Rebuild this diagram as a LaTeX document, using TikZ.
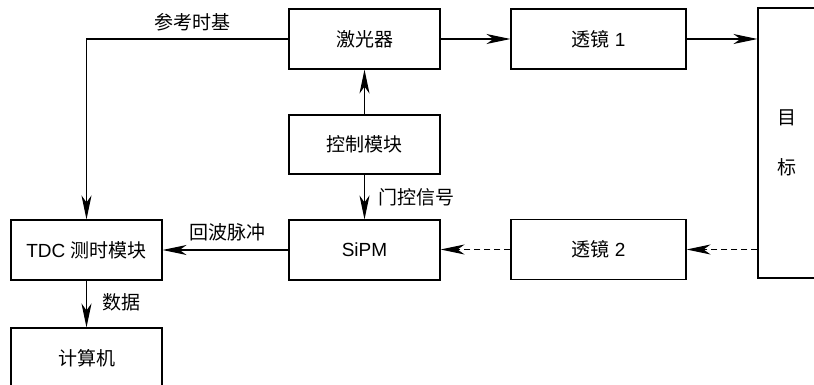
\documentclass[tikz,border=0pt]{standalone}
\usepackage{fontspec}
\setmainfont{Liberation Sans}
\newfontfamily\cjk{Noto Sans CJK SC}
\usetikzlibrary{arrows.meta}
\newcommand{\zh}[1]{{\cjk #1}}
\begin{document}
\begin{tikzpicture}[x=1pt,y=-1pt,
  box/.style={draw=black,line width=1.1pt,inner sep=0pt,minimum width=151pt,minimum height=60pt,font=\fontsize{19}{22}\selectfont},
  wbox/.style={box,minimum width=175pt},
  lbl/.style={inner sep=0pt,font=\fontsize{19}{22}\selectfont},
  arr/.style={line width=1.1pt,-{Stealth[length=24pt,width=10pt,inset=7pt]}},
  darr/.style={arr,dash pattern=on 6pt off 4pt}]
\useasboundingbox (0,0) rectangle (814,385);
\node[box] (laser) at (364.5,39) {\zh{激光器}};
\node[wbox] (lens1) at (598.5,39) {\zh{透镜} 1};
\node[box,minimum width=58pt,minimum height=270pt,align=center,font=\fontsize{19}{50}\selectfont] (target) at (787,143) {\zh{目}\\\zh{标}};
\node[box,minimum height=59pt] (ctrl) at (364.5,144.5) {\zh{控制模块}};
\node[box] (sipm) at (364.5,250) {SiPM};
\node[wbox] (lens2) at (598.5,249.5) {\zh{透镜} 2};
\node[box] (tdc) at (86.5,250) {TDC \zh{测时模块}};
\node[box] (comp) at (86.5,358) {\zh{计算机}};
\draw[arr] (laser.west) -| (tdc.north);
\node[lbl] (reflbl) at (192,22) {\zh{参考时基}};
\draw[arr] (laser.east) -- (lens1.west);
\draw[arr] (lens1.east) -- (lens1.east -| target.west);
\draw[arr] (ctrl.north) -- (laser.south);
\draw[arr] (ctrl.south) -- (sipm.north);
\node[lbl,anchor=west] (gatelbl) at (378,197) {\zh{门控信号}};
\draw[arr] (sipm.west) -- (tdc.east);
\node[lbl] (echolbl) at (227,232) {\zh{回波脉冲}};
\draw[darr] (lens2.east -| target.west) -- (lens2.east);
\draw[darr] (lens2.west) -- (lens2.west -| sipm.east);
\draw[arr] (tdc.south) -- (comp.north);
\node[lbl,anchor=west] (datalbl) at (102,302) {\zh{数据}};
\end{tikzpicture}
\end{document}
